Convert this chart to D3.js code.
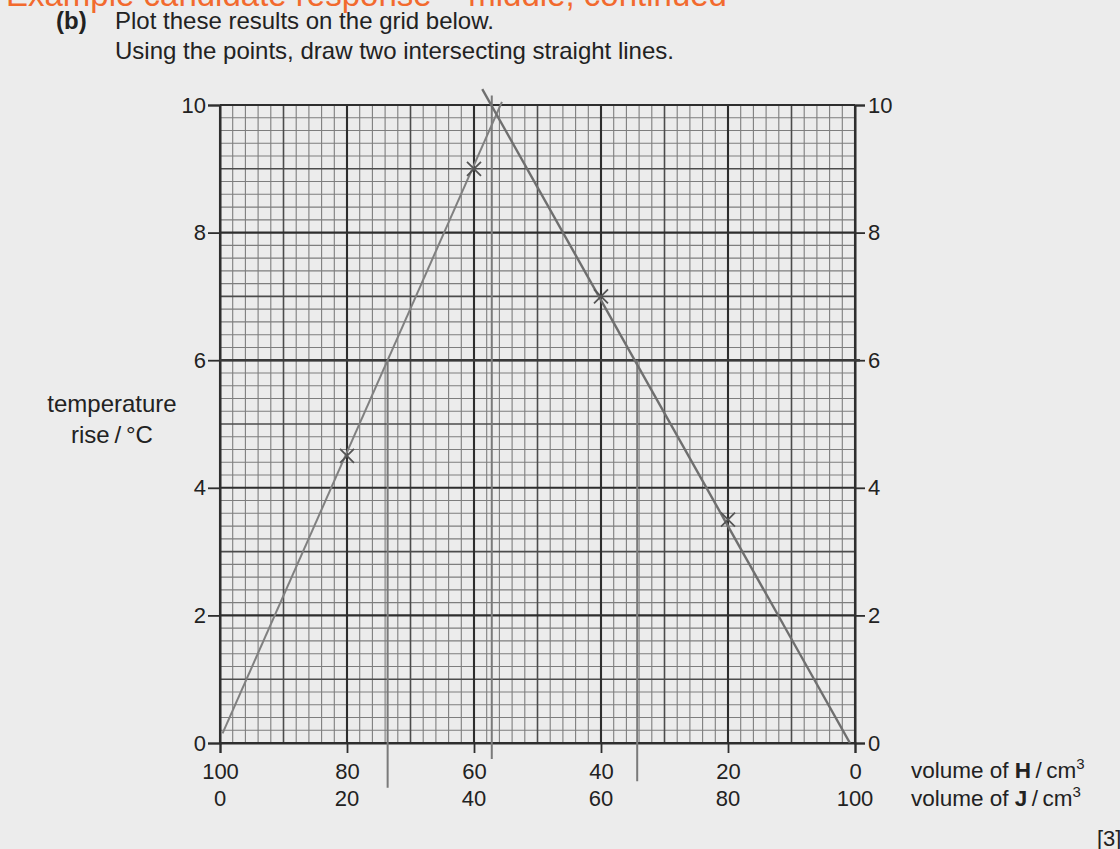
<!DOCTYPE html>
<html>
<head>
<meta charset="utf-8">
<script src="https://cdn.jsdelivr.net/npm/d3@7"></script>
<style>
  html, body { margin: 0; padding: 0; background: #ececec; }
  svg { display: block; }
  text { font-family: "Liberation Sans", Arial, Helvetica, sans-serif; fill: #222; }
</style>
</head>
<body>
<svg id="chart" width="1120" height="849"></svg>
<script>
// ---- data ----
const heading = "Example candidate response \u2013 middle, continued";
const partLabel = "(b)";
const instructions = ["Plot these results on the grid below.", "Using the points, draw two intersecting straight lines."];
const yTicks = [0, 2, 4, 6, 8, 10];
const hTicks = [100, 80, 60, 40, 20, 0];
const jTicks = [0, 20, 40, 60, 80, 100];
// plotted crosses: volume of H / cm3 and temperature rise / °C
const pointH = [80, 60, 40, 20];
const pointT = [4.5, 9.0, 7.0, 3.5];
// candidate's hand-drawn straight lines (end points)
const risingLineH = [99.6, 55.6];
const risingLineT = [0.15, 10.05];
const fallingLineH = [0.8, 58.7];
const fallingLineT = [0.0, 10.25];
// construction lines
const guideT = 6;
const guideVH = [73.6, 57.2, 34.3];
const guideVTop = [6, 10.15, 6];
const guideVBottom = [-0.7, -0.25, -0.6];

// ---- layout ----
const svg = d3.select("#chart");
const x = d3.scaleLinear().domain([100, 0]).range([220, 855]);
const y = d3.scaleLinear().domain([0, 10]).range([743, 105]);

// heading (partly cut off at the top, as in the scan)
svg.append("text").attr("x", 6).attr("y", 6)
  .style("font-size", "33px").style("fill", "#f26a2e").text(heading);

svg.append("text").attr("x", 56).attr("y", 29)
  .style("font-size", "24px").style("font-weight", "bold").text(partLabel);
svg.selectAll("text.instr").data(instructions).enter().append("text")
  .attr("class", "instr").attr("x", 115).attr("y", (d, i) => 29 + i * 30)
  .style("font-size", "24px").text(d => d);

// grid: minor every 0.2 (y) and 2 (x); medium every 1 / 10; major every 2 / 20
const g = svg.append("g");
const yMinor = d3.range(0, 10.0001, 0.2);
const xMinor = d3.range(0, 100.0001, 2);
function yWeight(v) {
  const r = Math.round(v * 5);
  if (r % 10 === 0) return 2;
  if (r % 5 === 0) return 1;
  return 0;
}
function xWeight(v) {
  const r = Math.round(v / 2);
  if (r % 10 === 0) return 2;
  if (r % 5 === 0) return 1;
  return 0;
}
const strokes = ["#7e7e7e", "#4c4c4c", "#2e2e2e"];
const widths = [1.1, 1.6, 2.1];
[0, 1, 2].forEach(level => {
  g.selectAll(null).data(yMinor.filter(v => yWeight(v) === level)).enter().append("line")
    .attr("x1", x(100)).attr("x2", x(0))
    .attr("y1", d => y(d)).attr("y2", d => y(d))
    .attr("stroke", strokes[level]).attr("stroke-width", widths[level]);
  g.selectAll(null).data(xMinor.filter(v => xWeight(v) === level)).enter().append("line")
    .attr("y1", y(0)).attr("y2", y(10))
    .attr("x1", d => x(d)).attr("x2", d => x(d))
    .attr("stroke", strokes[level]).attr("stroke-width", widths[level]);
});

// axes
const leftAxis = d3.axisLeft(y).tickValues(yTicks).tickSize(12).tickPadding(2).tickFormat(d3.format("d"));
const rightAxis = d3.axisRight(y).tickValues(yTicks).tickSize(10).tickPadding(3).tickFormat(d3.format("d"));
const bottomAxis = d3.axisBottom(x).tickValues(hTicks).tickSize(10).tickPadding(10).tickFormat(d3.format("d"));
function styleAxis(sel) {
  sel.select(".domain").attr("stroke", "#2e2e2e").attr("stroke-width", 2);
  sel.selectAll(".tick line").attr("stroke", "#2e2e2e").attr("stroke-width", 1.8);
  sel.selectAll(".tick text").style("font-size", "22px").style("fill", "#222")
    .style("font-family", "'Liberation Sans', Arial, sans-serif");
}
svg.append("g").attr("transform", `translate(${x(100)},0)`).call(leftAxis).call(styleAxis);
svg.append("g").attr("transform", `translate(${x(0)},0)`).call(rightAxis).call(styleAxis);
svg.append("g").attr("transform", `translate(0,${y(0)})`).call(bottomAxis).call(styleAxis);

// second row of x labels: volume of J = 100 - H
svg.selectAll("text.jlab").data(jTicks).enter().append("text")
  .attr("class", "jlab").attr("x", d => x(100 - d)).attr("y", 806)
  .attr("text-anchor", "middle").style("font-size", "22px").text(d => d);

// axis titles
const yTitle = svg.append("text").attr("text-anchor", "middle").style("font-size", "24px");
yTitle.append("tspan").attr("x", 112).attr("y", 412).text("temperature");
yTitle.append("tspan").attr("x", 112).attr("y", 443).text("rise\u2009/\u2009\u00b0C");

function volumeTitle(yPos, letter) {
  const t = svg.append("text").attr("x", 911).attr("y", yPos).style("font-size", "22.5px");
  t.append("tspan").text("volume of ");
  t.append("tspan").style("font-weight", "bold").text(letter);
  t.append("tspan").text("\u2009/\u2009cm");
  t.append("tspan").attr("dy", -9).style("font-size", "15px").text("3");
}
volumeTitle(778, "H");
volumeTitle(806, "J");

svg.append("text").attr("x", 1097).attr("y", 846).style("font-size", "22px").text("[3]");

// construction lines (pencil)
const pencil = "#7a7a7a";
svg.append("line").attr("x1", x(100)).attr("x2", x(0) + 5)
  .attr("y1", y(guideT)).attr("y2", y(guideT))
  .attr("stroke", "#3a3a3a").attr("stroke-width", 2.6);
svg.selectAll(null).data(guideVH).enter().append("line")
  .attr("x1", d => x(d)).attr("x2", d => x(d))
  .attr("y1", (d, i) => y(guideVTop[i])).attr("y2", (d, i) => y(guideVBottom[i]))
  .attr("stroke", pencil).attr("stroke-width", 2);

// candidate's lines
const lineGen = d3.line().x(d => x(d[0])).y(d => y(d[1]));
svg.append("path").datum(risingLineH.map((h, i) => [h, risingLineT[i]]))
  .attr("d", lineGen).attr("fill", "none").attr("stroke", "#808080").attr("stroke-width", 2);
svg.append("path").datum(fallingLineH.map((h, i) => [h, fallingLineT[i]]))
  .attr("d", lineGen).attr("fill", "none").attr("stroke", "#6f6f6f").attr("stroke-width", 2.4);

// crosses
const cross = svg.selectAll("g.pt").data(pointH).enter().append("g")
  .attr("transform", (d, i) => `translate(${x(d)},${y(pointT[i])})`);
cross.append("path").attr("d", "M-7,-7L7,7M-7,7L7,-7")
  .attr("stroke", "#555").attr("stroke-width", 1.8).attr("fill", "none");
</script>
</body>
</html>
